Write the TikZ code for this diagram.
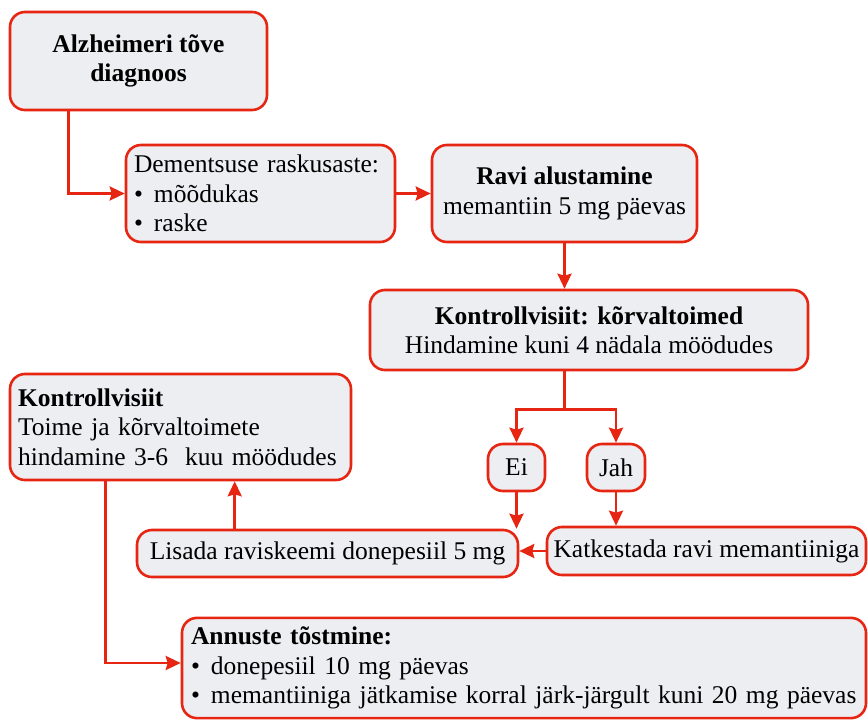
\documentclass[tikz,border=0pt]{standalone}
\usepackage{fontspec}
\setmainfont{Liberation Serif}
\usetikzlibrary{arrows.meta}
\definecolor{boxred}{RGB}{230,38,18}
\definecolor{boxfill}{RGB}{237,238,241}
\newcommand{\punkt}{\makebox[20pt][l]{\textbullet}}
\begin{document}
\begin{tikzpicture}[
    x=1pt, y=-1pt,
    every node/.style={font=\fontsize{25.5}{29.5}\selectfont},
    box/.style={rectangle, draw=boxred, fill=boxfill, line width=2.6pt, rounded corners=15pt, inner sep=9pt},
    arrow/.style={-{Stealth[length=15pt,width=14pt,inset=2pt]}, draw=boxred, line width=2.6pt}
]
    \useasboundingbox (0,0) rectangle (868,720);

    \node[box, minimum width=257pt, minimum height=98pt, align=center] (diag) at (138.5,61) {\textbf{Alzheimeri tõve}\\\textbf{diagnoos}};
    \node[box, minimum height=97pt, text width=253pt, inner xsep=8pt, align=left] (aste) at (260.5,193.5) {Dementsuse raskusaste:\\\punkt mõõdukas\\\punkt raske};
    \node[box, minimum width=265pt, minimum height=97pt, align=center] (ravi) at (564.5,193.5) {\textbf{Ravi alustamine}\\memantiin 5 mg päevas};
    \node[box, minimum width=438pt, minimum height=80pt, align=center] (kontroll1) at (589,330) {\textbf{Kontrollvisiit: kõrvaltoimed}\\Hindamine kuni 4 nädala möödudes};
    \node[box, minimum height=106pt, text width=325pt, inner xsep=8pt, align=left] (kontroll2) at (180.5,427) {\textbf{Kontrollvisiit}\\Toime ja kõrvaltoimete\\hindamine 3-6~ kuu möödudes};
    \node[box, minimum width=57pt, minimum height=47pt, inner sep=2pt] (ei) at (516.5,467.5) {Ei};
    \node[box, minimum width=58pt, minimum height=47pt, inner sep=2pt] (jah) at (616,467.5) {Jah};
    \node[box, minimum width=381pt, minimum height=47pt, inner sep=2pt] (lisada) at (327.5,553.5) {Lisada raviskeemi donepesiil 5 mg};
    \node[box, minimum width=319pt, minimum height=48pt, inner sep=2pt] (katk) at (706.5,551) {Katkestada ravi memantiiniga};
    \node[box, minimum height=100pt, text width=666pt, inner xsep=9pt, align=left] (annuste) at (524,668) {\textbf{Annuste tõstmine:}\\\punkt donepesiil 10 mg päevas\\\punkt memantiiniga jätkamise korral järk-järgult kuni 20 mg päevas};

    \draw[arrow] ([xshift=60pt]diag.south west) |- (aste.west);
    \draw[arrow] (aste) -- (ravi);
    \draw[arrow] (ravi.south) -- (ravi.south |- kontroll1.north);
    \draw[draw=boxred, line width=2.6pt] (ravi.south |- kontroll1.south) -- ++(0,38) coordinate (split);
    \draw[arrow] (split) -| (ei.north);
    \draw[arrow] (split) -| (jah.north);
    \draw[arrow] (ei.south) -- (ei.south |- lisada.north);
    \draw[arrow] (jah.south) -- (jah.south |- katk.north);
    \draw[arrow] (katk.west) -- (katk.west -| lisada.east);
    \draw[arrow] ([xshift=99pt]lisada.north west) -- ([xshift=99pt]lisada.north west |- kontroll2.south);
    \draw[arrow] ([xshift=97pt]kontroll2.south west) |- ([yshift=5pt]annuste.west);
\end{tikzpicture}
\end{document}
